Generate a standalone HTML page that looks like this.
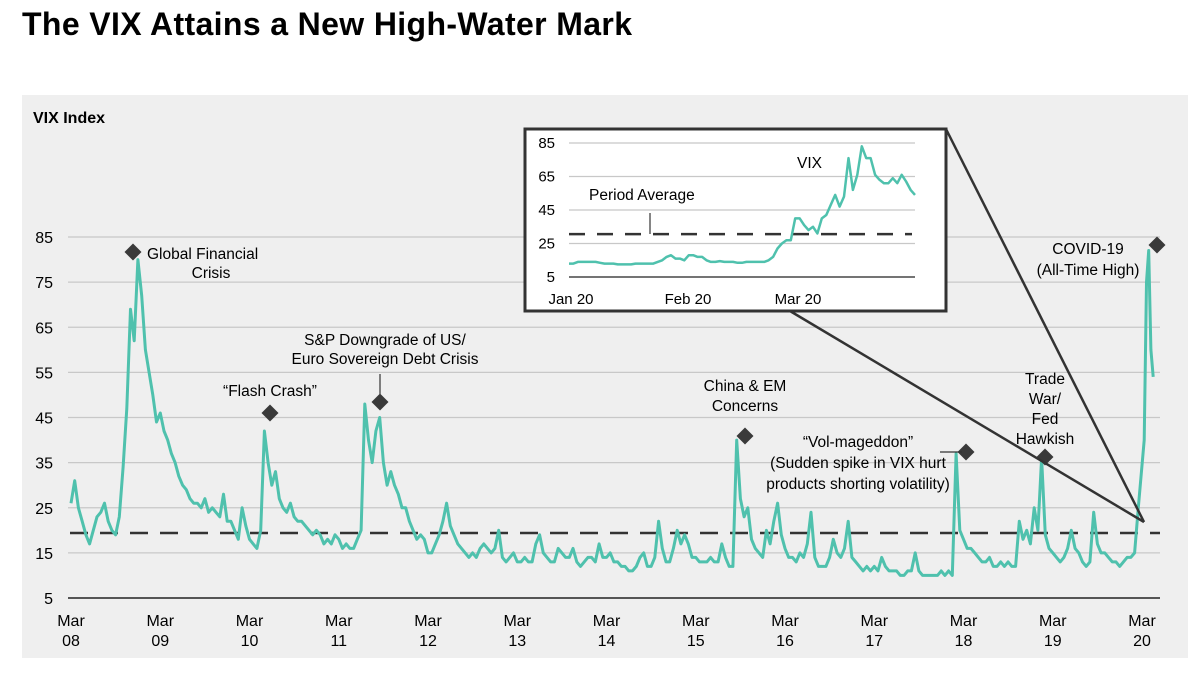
<!DOCTYPE html>
<html><head><meta charset="utf-8"><style>
body{margin:0;background:#fff;width:1200px;height:673px;overflow:hidden;font-family:"Liberation Sans",sans-serif}
svg{position:absolute;left:0;top:0}
</style></head><body>
<svg width="1200" height="673" viewBox="0 0 1200 673" font-family="Liberation Sans, sans-serif">
<text x="22" y="35" font-size="32" font-weight="bold" textLength="610">The VIX Attains a New High-Water Mark</text>
<rect x="22" y="95" width="1166" height="563" fill="#efefef"/>
<text x="33" y="123" font-size="16" font-weight="bold">VIX Index</text>
<g id="main"></g>
<g id="callouts"></g>
<g id="inset"></g>
</svg>
<script>
// main series: semi-monthly values starting Mar 2008
const vixMain = [
26,31,25,22,19,17,20,23,24,26,22,20,19,23,34,47,69,62,80,72,60,55,50,44,
46,42,40,37,35,32,30,29,27,26,26,25,27,24,25,24,23,28,22,22,20,18,25,21,
18,17,16,20,42,35,30,33,27,25,24,26,23,22,22,21,20,19,20,19,17,18,17,19,
18,16,17,16,16,18,20,48,40,35,42,45,35,30,33,30,28,25,25,22,20,18,19,18,
15,15,17,19,22,26,21,19,17,16,15,14,15,14,16,17,16,15,16,20,14,13,14,15,
13,13,14,13,13,17,19,15,14,13,13,16,15,14,14,16,13,12,13,14,14,13,17,14,
14,15,13,13,12,12,11,11,12,14,15,12,12,14,22,16,13,13,16,20,17,19,17,14,
14,13,13,13,14,13,13,17,14,12,12,40,27,23,25,18,16,15,14,20,17,22,26,19,
16,14,14,13,15,14,17,24,14,12,12,12,14,18,15,14,16,22,14,13,12,11,12,11,
12,11,14,12,11,11,11,10,10,11,11,15,11,10,10,10,10,10,11,10,11,10,37,20,
18,16,16,15,14,13,13,14,12,12,13,12,13,12,12,22,18,20,17,25,20,36,19,16,
15,14,13,14,16,20,16,15,13,12,13,24,17,15,15,14,13,13,12,13,14,14,15,25,
40,75,82,60,54];
const mainYTicks = [5,15,25,35,45,55,65,75,85];
const mainXTicks = ["08","09","10","11","12","13","14","15","16","17","18","19","20"];
const mainAvg = 19.4;
// inset series Jan–Mar 2020 (daily)
const vixInset = [13,13,14,14,14,14,14,13.5,13,13,13,12.5,12.5,12.5,12.5,13,13,13,13,13,14,15,17,18,16,16,15,18,18,17,17,15,14,14,14.5,14,14,14,13.5,13.5,14,14,14,14,14,15,17,22,25,27,27,40,40,36,33,35,31,40,42,48,54,47,53,76,57,66,83,76,76,66,63,61,61,64,61,66,62,57,54];
const insetYTicks = [5,25,45,65,85];
const insetXLabels = ["Jan 20","Feb 20","Mar 20"];
const insetAvg = 30.6;

const NS="http://www.w3.org/2000/svg";
function mk(tag,attrs,parent,text){const e=document.createElementNS(NS,tag);for(const k in attrs)e.setAttribute(k,attrs[k]);if(text!==undefined)e.textContent=text;parent.appendChild(e);return e;}
const main=document.getElementById('main');
const yM=v=>598-(v-5)*(361/80);
const xM=t=>71+t*89.25;
mainYTicks.forEach(v=>{
  const l=mk('line',{x1:68,x2:1160,y1:yM(v),y2:yM(v),stroke:v===5?'#222':'#c8c8c8','stroke-width':v===5?1.5:1.2},main);
  
  
  const t=mk('text',{x:53,y:yM(v)+6,'font-size':16,'text-anchor':'end'},main,String(v));
  
  
});
mainXTicks.forEach((y,i)=>{
  const t=mk('text',{x:xM(i),y:626,'font-size':16,'text-anchor':'middle'},main);
  
  
  mk('tspan',{x:xM(i),dy:0},t,'Mar');
  mk('tspan',{x:xM(i),dy:20},t,y);
});
const avg=mk('line',{x1:70,x2:1160,y1:yM(mainAvg),y2:yM(mainAvg),stroke:'#333','stroke-width':2.5,'stroke-dasharray':'18,12'},main);


let pts=vixMain.map((v,i)=>{const t=i<288?i/24:12+(i-287)*0.025;return xM(t).toFixed(1)+','+yM(v).toFixed(1);}).join(' ');
const ser=mk('polyline',{points:pts,fill:'none',stroke:'#4fc1ad','stroke-width':3,'stroke-linejoin':'round'},main);



const cg=document.getElementById('callouts');
function diamond(x,y,name){const d=mk('rect',{x:x-6,y:y-6,width:12,height:12,fill:'#3a3a3a',transform:`rotate(45 ${x} ${y})`},cg);}
function label(lines,x,y0,dy,anchor,name){const t=mk('text',{'font-size':15.5,'text-anchor':anchor||'middle'},cg);lines.forEach((s,i)=>mk('tspan',{x:x,y:y0+i*dy},t,s));}
diamond(133,252,'gfc-marker'); label(['Global Financial'],147,259,19,'start','gfc-label'); label(['Crisis'],211,278,19,'middle','gfc-label-2');
diamond(270,413,'flash-crash-marker'); label(['“Flash Crash”'],270,396,19,'middle','flash-crash-label');
diamond(380,402,'sp-downgrade-marker'); label(['S&P Downgrade of US/','Euro Sovereign Debt Crisis'],385,345,19,'middle','sp-downgrade-label');
mk('line',{x1:380,x2:380,y1:374,y2:394,stroke:'#333','stroke-width':1.2},cg);
diamond(745,436,'china-em-marker'); label(['China & EM','Concerns'],745,391,20,'middle','china-em-label');
diamond(966,452,'volmageddon-marker'); label(['“Vol-mageddon”','(Sudden spike in VIX hurt','products shorting volatility)'],858,447,21,'middle','volmageddon-label');
mk('line',{x1:940,x2:962,y1:452,y2:452,stroke:'#333','stroke-width':1.2},cg);
diamond(1045,457,'trade-war-marker'); label(['Trade','War/','Fed','Hawkish'],1045,384,20,'middle','trade-war-label');
diamond(1157,245,'covid-marker'); label(['COVID-19','(All-Time High)'],1088,254,21,'middle','covid-label');
mk('line',{x1:946,x2:1144,y1:129,y2:522,stroke:'#333','stroke-width':2.5},cg);
mk('line',{x1:790,x2:1144,y1:311,y2:522,stroke:'#333','stroke-width':2.5},cg);

const ig=document.getElementById('inset');
const box=mk('rect',{x:525,y:129,width:421,height:182,fill:'#fff',stroke:'#333','stroke-width':3},ig);


const yI=v=>277-(v-5)*(134/80);
const xI=i=>569+i*(346/(vixInset.length-1));
insetYTicks.forEach(v=>{
  const l=mk('line',{x1:569,x2:915,y1:yI(v),y2:yI(v),stroke:v===5?'#222':'#c8c8c8','stroke-width':1.2},ig);
  
  
  const t=mk('text',{x:555,y:yI(v)+5,'font-size':15,'text-anchor':'end'},ig,String(v));
  
  
});
[571,688,798].forEach((x,i)=>{const t=mk('text',{x:x,y:304,'font-size':15,'text-anchor':'middle'},ig,insetXLabels[i]);});
const ia=mk('line',{x1:569,x2:912,y1:yI(insetAvg),y2:yI(insetAvg),stroke:'#333','stroke-width':2.5,'stroke-dasharray':'16,12'},ig);


const ip=mk('polyline',{points:vixInset.map((v,i)=>xI(i).toFixed(1)+','+yI(v).toFixed(1)).join(' '),fill:'none',stroke:'#4fc1ad','stroke-width':2.5,'stroke-linejoin':'round'},ig);


const vl=mk('text',{x:797,y:168,'font-size':15.5},ig,'VIX');


const pl=mk('text',{x:589,y:200,'font-size':15.5},ig,'Period Average');


mk('line',{x1:650,x2:650,y1:213,y2:234,stroke:'#333','stroke-width':1.2},ig);
</script>
</body></html>
